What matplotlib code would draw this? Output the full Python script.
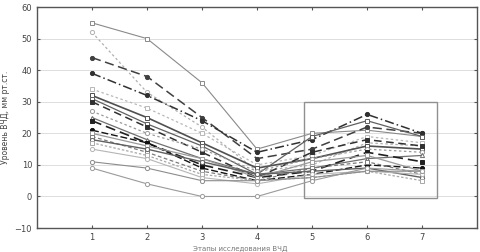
import matplotlib
matplotlib.use('Agg')
import matplotlib.pyplot as plt
import matplotlib.patches as patches

# stages of the study
stages = [1, 2, 3, 4, 5, 6, 7]

# ICP level per patient, mm Hg
p01 = [55, 50, 36, 15, 20, 21, 19]
p02 = [52, 33, 22, 8, 10, 17, 16]
p03 = [44, 38, 25, 12, 15, 22, 20]
p04 = [39, 32, 24, 14, 18, 26, 20]
p05 = [34, 28, 20, 10, 13, 19, 17]
p06 = [32, 25, 17, 9, 12, 16, 15]
p07 = [31, 23, 16, 7, 19, 24, 19]
p08 = [30, 22, 14, 6, 14, 18, 16]
p09 = [27, 20, 15, 8, 12, 15, 14]
p10 = [25, 18, 12, 7, 9, 12, 13]
p11 = [24, 17, 10, 6, 8, 14, 11]
p12 = [21, 17, 9, 5, 7, 10, 9]
p13 = [20, 16, 12, 6, 11, 13, 8]
p14 = [19, 14, 8, 5, 9, 11, 7]
p15 = [18, 15, 11, 7, 8, 9, 6]
p16 = [17, 13, 7, 5, 6, 8, 5]
p17 = [15, 12, 6, 4, 7, 8, 7]
p18 = [11, 9, 5, 5, 6, 8, 8]
p19 = [9, 4, 0, 0, 5, 9, 8]

patients = [p01, p02, p03, p04, p05, p06, p07, p08, p09, p10,
            p11, p12, p13, p14, p15, p16, p17, p18, p19]

# line look for each patient: color, linestyle, marker, width
styles = [
  ('#8a8a8a', '-', 's', 0.8),
  ('#b0b0b0', (0, (2, 2)), 'o', 0.9),
  ('#404040', (0, (6, 3)), 'o', 1.1),
  ('#303030', (0, (6, 2, 1, 2)), 'o', 1.1),
  ('#b8b8b8', (0, (2, 2)), 's', 0.9),
  ('#505050', '-', 's', 1.2),
  ('#606060', '-', 's', 0.9),
  ('#303030', (0, (5, 3)), 's', 1.1),
  ('#9a9a9a', (0, (2, 2)), 'o', 0.9),
  ('#707070', '-', '^', 0.9),
  ('#202020', (0, (6, 3)), 's', 1.2),
  ('#111111', (0, (5, 2)), 'o', 1.0),
  ('#9a9a9a', '-', 's', 0.9),
  ('#7a7a7a', (0, (3, 2)), 's', 0.9),
  ('#606060', '-', 'o', 1.0),
  ('#a8a8a8', (0, (2, 1.5)), 's', 0.9),
  ('#b5b5b5', '-', 'o', 0.8),
  ('#8c8c8c', '-', 'o', 0.8),
  ('#9a9a9a', '-', 'o', 0.8),
]

fig = plt.figure(figsize=(4.8, 2.52), dpi=100)
ax = fig.add_axes([0.077, 0.095, 0.917, 0.877])

for vals, (c, ls, m, lw) in zip(patients, styles):
  filled = c < '#500000'
  ax.plot(stages, vals, color=c, linestyle=ls, linewidth=lw, marker=m,
          markersize=3, markerfacecolor=c if filled else 'white',
          markeredgecolor=c, markeredgewidth=0.7)

# highlighted region
rect = patches.Rectangle((4.85, -0.5), 2.42, 30.5, fill=False,
                         edgecolor='#909090', linewidth=1.0)
ax.add_patch(rect)

ax.set_xlim(0, 8)
ax.set_ylim(-10, 60)
ax.set_xticks(stages)
ax.set_yticks([-10, 0, 10, 20, 30, 40, 50, 60])
ax.yaxis.grid(True, color='#dddddd', linewidth=0.7)
ax.set_axisbelow(True)
ax.tick_params(labelsize=6, length=2, direction='in', top=True, right=True,
               colors='#555555', labelcolor='#444444')
for s in ax.spines.values():
  s.set_color('#555555')
  s.set_linewidth(1.0)

ax.set_ylabel('Уровень ВЧД, мм рт.ст.', fontsize=5.5, color='#444444', labelpad=3)
fig.text(0.5, 0.012, 'Этапы исследования ВЧД', fontsize=5, color='#777777',
         ha='center', va='center')

plt.savefig('out.png', dpi=100)
